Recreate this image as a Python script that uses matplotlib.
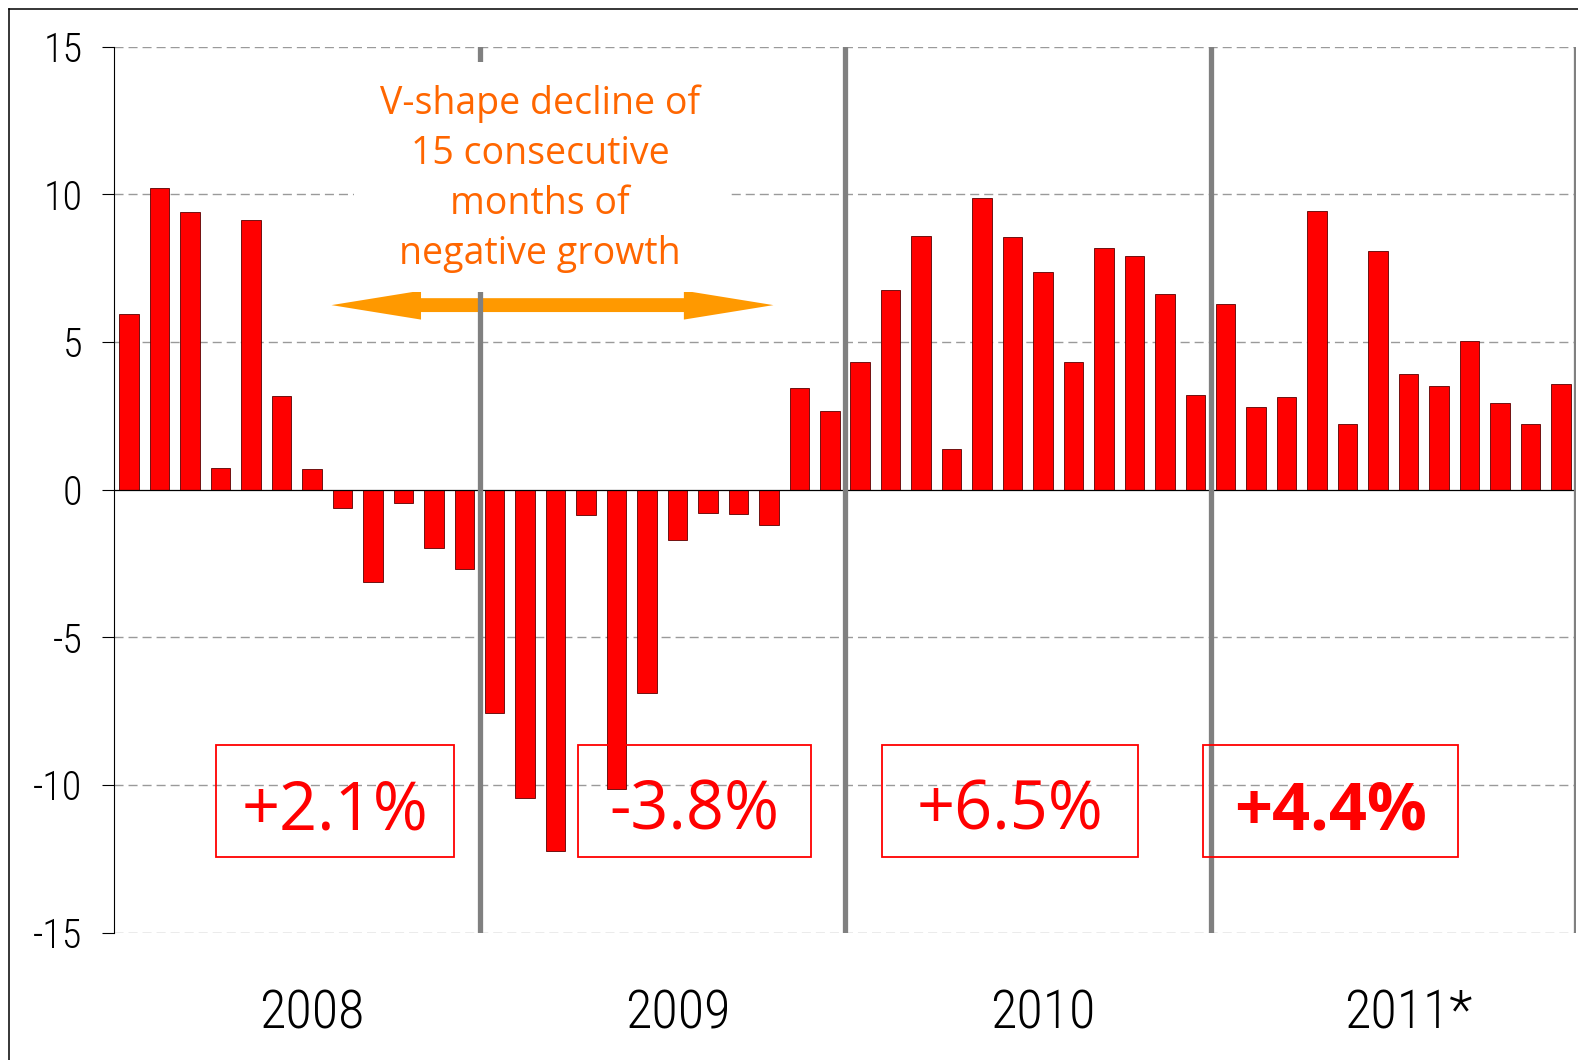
import numpy as np
import matplotlib.pyplot as plt
import matplotlib.patches as mpatches
import matplotlib.transforms as mtransforms
from matplotlib import font_manager as fm
from matplotlib.lines import Line2D

# monthly growth, Jan 2008 - Dec 2011 (%)
values = [5.95, 10.2, 9.4, 0.72, 9.14, 3.16, 0.70, -0.61, -3.12, -0.44, -1.99, -2.68,
          -7.57, -10.45, -12.25, -0.84, -10.15, -6.87, -1.72, -0.78, -0.81, -1.21, 3.44, 2.68,
          4.31, 6.76, 8.60, 1.38, 9.89, 8.55, 7.36, 4.31, 8.17, 7.90, 6.62, 3.22,
          6.28, 2.81, 3.13, 9.43, 2.24, 8.08, 3.91, 3.50, 5.03, 2.93, 2.21, 3.59]
years = ["2008", "2009", "2010", "2011*"]
annual = ["+2.1%", "-3.8%", "+6.5%", "+4.4%"]
annual_bold = [False, False, False, True]
yticks = [15, 10, 5, 0, -5, -10, -15]
ytick_labels = ["15", "10", "5", "0", "-5", "-10", "-15"]
note = "V-shape decline of\n15 consecutive\nmonths of\nnegative growth"

# look for a narrow face for the axis labels
installed = {f.name: f for f in fm.fontManager.ttflist}
narrow = dict(family="DejaVu Sans", stretch="condensed")
for name in ["Liberation Sans Narrow", "Roboto Condensed", "Open Sans Condensed", "Noto Sans Condensed"]:
    if name in installed:
        narrow = dict(family=name, stretch="normal")
        break
else:
    for f in fm.fontManager.ttflist:
        if "condensed" in f.stretch or "Condensed" in f.name or "Narrow" in f.name:
            narrow = dict(family=f.name, stretch=f.stretch)
            break

W, H = 1578, 1060
fig = plt.figure(figsize=(W / 100, H / 100), dpi=100)
ax = fig.add_axes([114 / W, 1 - 932.7 / H, (1576 - 114) / W, (932.7 - 46.7) / H])

x = np.arange(len(values))
ax.bar(x, values, width=0.64, color="#FF0000", edgecolor="#5a0000", linewidth=0.6, zorder=2)

ax.set_xlim(-0.5, len(values) - 0.5)
ax.set_ylim(-15, 15)

# gridlines
for y in yticks:
    if y != 0:
        ax.axhline(y, color="#9a9a9a", lw=1.0, dashes=(6.5, 3.6), zorder=0.5)
ax.axhline(0, color="black", lw=0.9, zorder=2.2)

# year separators
for k in range(1, 5):
    ax.axvline(12 * k - 0.5, ymin=0, ymax=1, color="#808080", lw=3.8, zorder=3)

# axes styling
for s in ["top", "right", "bottom"]:
    ax.spines[s].set_visible(False)
ax.spines["left"].set_linewidth(0.8)
ax.set_xticks([])
ax.set_yticks(yticks)
ax.set_yticklabels(ytick_labels, family=narrow["family"], fontstretch=narrow["stretch"],
                   fontweight="light", fontsize=29)
ax.tick_params(axis="y", direction="out", length=8.6, width=0.8, pad=14)

# year labels
trans = mtransforms.blended_transform_factory(ax.transData, fig.transFigure)
for i, yr in enumerate(years):
    ax.text(6 + 12 * i, 1 - 1014 / H, yr, transform=trans, ha="center", va="center",
            fontsize=39, family=narrow["family"], fontstretch=narrow["stretch"],
            fontweight="light", color="black")

# annual boxes
box_x = [(2.85, 10.66), (14.74, 22.40), (24.72, 33.12), (35.27, 43.64)]
for (x0, x1), lab, bold in zip(box_x, annual, annual_bold):
    ax.add_patch(mpatches.Rectangle((x0, -12.44), x1 - x0, 12.44 - 8.65, fill=False,
                                    edgecolor="#FF0000", lw=1.3, zorder=4))
    ax.text((x0 + x1) / 2, -10.9, lab, ha="center", va="center", fontsize=48,
            family="Open Sans", fontweight="bold" if bold else "normal",
            color="#FF0000", zorder=5)

# white area behind the note
ax.add_patch(mpatches.Rectangle((7.38, 6.69), 19.72 - 7.38, 14.48 - 6.69,
                                facecolor="white", edgecolor="none", zorder=3.5))
ax.text(13.49, 10.53, note, ha="center", va="center", fontsize=27, family="Open Sans",
        color="#FF6600", linespacing=1.42, zorder=4)

# double-headed arrow as one polygon
x_left, x_right, ay = 6.64, 21.15, 6.25
shaft, head_w, head_l = 0.47 / 2, 0.98 / 2, 2.94
ax.fill([x_left, x_left + head_l, x_left + head_l, x_right - head_l, x_right - head_l, x_right,
         x_right - head_l, x_right - head_l, x_left + head_l, x_left + head_l],
        [ay, ay + head_w, ay + shaft, ay + shaft, ay + head_w, ay,
         ay - head_w, ay - shaft, ay - shaft, ay - head_w],
        color="#FF9900", lw=0, zorder=2.5)

# frame around the figure (top and left visible)
fig.add_artist(Line2D([9 / W, 9 / W], [0, 1 - 9 / H], transform=fig.transFigure, color="black", lw=1.1))
fig.add_artist(Line2D([9 / W, 1], [1 - 9 / H, 1 - 9 / H], transform=fig.transFigure, color="black", lw=1.1))

fig.savefig("out.png", dpi=100)
